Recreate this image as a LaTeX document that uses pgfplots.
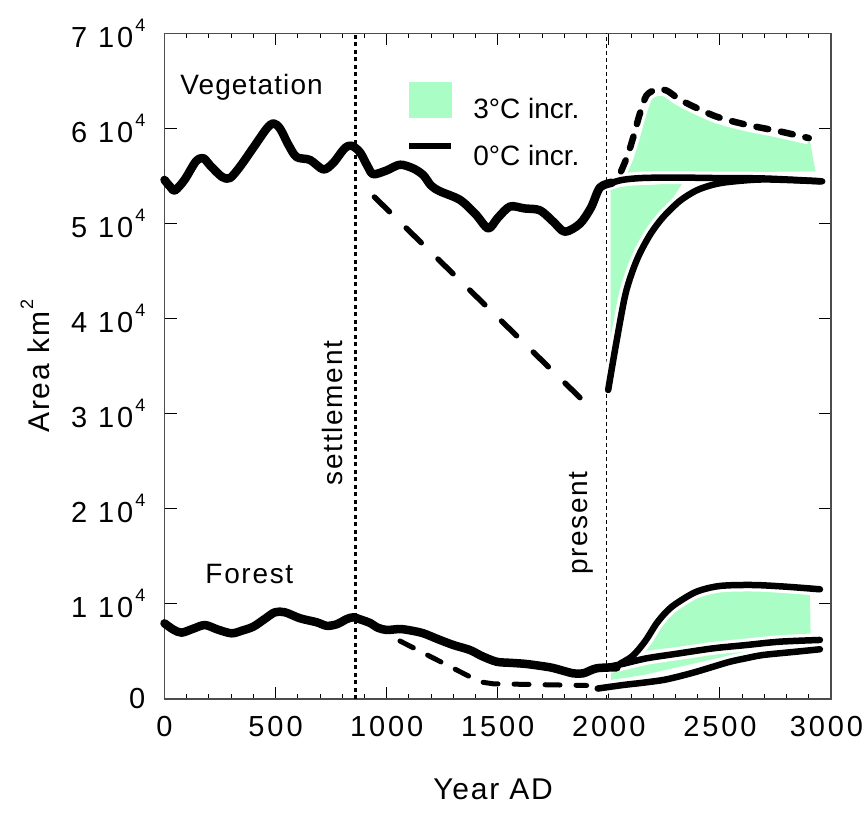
\documentclass[border=0pt]{standalone}
\usepackage{pgfplots}
\usepackage{pgfplotstable}
\pgfplotsset{compat=1.18}
\usepackage{fontspec}
\setmainfont{Liberation Sans}
\newfontfamily\tickfam{Liberation Sans}[LetterSpace=10]
\newfontfamily\txtfam{Liberation Sans}[LetterSpace=6]
\newfontfamily\vegfam{Liberation Sans}[LetterSpace=4]
\definecolor{mint}{RGB}{170,253,196}

\newcommand\tickfont{\tickfam\fontsize{29bp}{34bp}\selectfont}
\newcommand\txtfont{\txtfam\fontsize{28bp}{33bp}\selectfont}
\newcommand\legfont{\fontsize{28bp}{33bp}\selectfont}
\newcommand\labfont{\txtfam\fontsize{30bp}{36bp}\selectfont}
\newcommand\supr[1]{\hspace{2bp}\raisebox{16bp}{\fontsize{18bp}{18bp}\selectfont #1}}
\newcommand\tenk[1]{#1 10\supr{4}}

% vegetation area, reconstruction up to the present
\pgfplotstableread{
x y
0 54600
25 53900
47 53500
90 54600
140 56500
174 56900
210 56000
260 54900
295 54800
340 56000
400 58000
460 60000
490 60550
520 60000
560 58200
595 57000
655 56700
715 55700
760 56400
810 57900
842 58200
880 57500
915 56000
940 55200
1000 55600
1060 56200
1120 55800
1165 55100
1200 54000
1240 53400
1330 52500
1400 51000
1457 49500
1500 50600
1555 51800
1620 51600
1690 51400
1750 50200
1802 49150
1870 50000
1920 51700
1960 53800
2014 54300
}\veghist

% vegetation without settlement
\pgfplotstableread{
x y
945 52800
1870 31700
}\vegdecline

% vegetation, 0 C projection (continued)
\pgfplotstableread{
x y
2000 54200
2060 54600
2150 54800
2300 54850
2469 54800
2700 54750
2960 54450
}\vegflat

% vegetation, 0 C projection (recovery)
\pgfplotstableread{
x y
1997 32500
2030 37000
2072 42300
2105 44900
2140 46900
2190 49000
2245 50700
2320 52400
2395 53500
2470 54100
2545 54400
2700 54650
2950 54450
}\vegrecov

% vegetation, 3 C upper bound
\pgfplotstableread{
x y
2055 55500
2085 57200
2110 59100
2140 61600
2170 63500
2215 64100
2260 64000
2310 63200
2365 62500
2485 61250
2620 60400
2770 59700
2900 59000
}\vegwarm

% 3 C bands
\pgfplotstableread{
x y
2065 55300
2090 57000
2120 59300
2150 61800
2185 63500
2222 63700
2320 62400
2472 60900
2620 60000
2905 58700
2930 55500
}\vegbandA

\pgfplotstableread{
x y
2008 53700
2100 54000
2200 54100
2333 54300
2245 51200
2190 49500
2140 47500
2100 45400
2072 43000
2040 38500
2008 36500
}\vegbandB

% forest area
\pgfplotstableread{
x y
0 7960
40 7300
77 6980
130 7400
182 7780
240 7300
302 6910
350 7200
400 7610
450 8400
497 9120
542 9120
610 8490
685 8070
730 7700
775 7860
820 8400
850 8590
890 8300
925 8000
960 7500
1000 7260
1060 7360
1110 7200
1165 6910
1230 6300
1300 5680
1375 5150
1430 4500
1495 3920
1560 3800
1630 3680
1735 3330
1790 3000
1840 2700
1885 2700
1945 3230
2035 3330
}\forhist

\pgfplotstableread{
x y
1060 6100
1420 1800
1480 1600
1900 1420
}\fordecline

\pgfplotstableread{
x y
2000 3400
2064 3700
2170 4280
2320 4810
2470 5330
2620 5680
2770 6030
2950 6210
}\formid

\pgfplotstableread{
x y
2050 3700
2100 4400
2132 5150
2170 6300
2215 7960
2260 9200
2305 10070
2395 11290
2500 11890
2650 11990
2800 11810
2950 11540
}\forup

\pgfplotstableread{
x y
1950 1100
2064 1470
2150 1700
2245 2000
2320 2400
2395 2870
2470 3400
2545 3920
2620 4300
2695 4630
2845 4980
2950 5230
}\forlow

\pgfplotstableread{
x y
2140 5000
2180 6300
2215 7500
2275 8900
2340 10300
2400 11100
2470 11400
2650 11350
2905 11250
2908 6900
2620 6300
2470 6000
2320 5500
}\forbandA

\pgfplotstableread{
x y
2010 3300
2100 3700
2250 4200
2470 4900
2650 5300
2800 5600
2650 5000
2470 4200
2300 3300
2150 2500
2010 2000
}\forbandB

\begin{document}
\begin{tikzpicture}
\begin{axis}[
  at={(0,0)}, anchor=south west,
  width=666.5bp, height=665.5bp, scale only axis,
  clip=false,
  xmin=0, xmax=3000, ymin=0, ymax=70000,
  scaled x ticks=false, scaled y ticks=false,
  xtick={0,500,1000,1500,2000,2500,3000},
  xticklabels={0,500,1000,1500,2000,2500,\hspace*{-9bp}3000},
  minor x tick num=4,
  ytick={0,10000,20000,30000,40000,50000,60000,70000},
  yticklabels={0,\tenk{1},\tenk{2},\tenk{3},\tenk{4},\tenk{5},\tenk{6},\tenk{7}},
  tick align=inside,
  major tick length=12bp, minor tick length=5bp,
  every tick/.style={black, line width=1bp},
  axis line style={black!70, line width=1.3bp},
  xticklabel style={font=\tickfont, inner sep=0pt, yshift=-17.5bp},
  yticklabel style={font=\tickfont, inner sep=0pt, xshift=-19bp},
  xlabel={Year AD},
  ylabel={Area km\supr{2}},
  xlabel style={font=\labfont, at={(axis description cs:0.493,-0.1352)}, anchor=center},
  ylabel style={font=\labfont, at={(axis description cs:-0.1943,0.5)}, anchor=center},
  legend style={at={(rel axis cs:0.3623,0.927)}, anchor=north west,
    draw=none, fill=none, font=\legfont, row sep=21bp, column sep=0bp,
    inner sep=0pt, cells={anchor=west}},
  legend cell align=left,
]
% 3 C bands
\addplot[fill=mint, draw=none, forget plot] table {\vegbandA} -- cycle;
\addplot[fill=mint, draw=none, forget plot] table {\vegbandB} -- cycle;
\addplot[fill=mint, draw=none, forget plot] table {\forbandA} -- cycle;
\addplot[fill=mint, draw=none, forget plot] table {\forbandB} -- cycle;

% event markers
\addplot[black, line width=2.3bp, dash pattern=on 4bp off 3.5bp, forget plot]
  coordinates {(860,0) (860,70000)};
\addplot[black, line width=1.2bp, dash pattern=on 4bp off 3bp, forget plot]
  coordinates {(1990,0) (1990,70000)};

% white casing under the projections
\addplot[white, line width=13bp, line join=round, smooth, forget plot] table {\vegwarm};
\addplot[white, line width=13bp, line join=round, smooth, forget plot] table {\vegflat};
\addplot[white, line width=13bp, line join=round, smooth, forget plot] table {\vegrecov};
\addplot[white, line width=13bp, line join=round, smooth, forget plot] table {\forup};
\addplot[white, line width=13bp, line join=round, smooth, forget plot] table {\formid};
\addplot[white, line width=13bp, line join=round, smooth, forget plot] table {\forlow};

% reconstructions
\addplot[black, line width=8.5bp, smooth, tension=0.5, line join=round, line cap=round, forget plot] table {\veghist};
\addplot[black, line width=8.5bp, smooth, tension=0.5, line join=round, line cap=round, forget plot] table {\forhist};
\addplot[black, line width=5.5bp, line cap=round, dash pattern=on 21bp off 23.4bp, forget plot] table {\vegdecline};
\addplot[black, line width=5bp, line cap=round, dash pattern=on 15bp off 16bp, forget plot] table {\fordecline};

% projections
\addplot[black, line width=6.5bp, smooth, line cap=round, dash pattern=on 12bp off 13bp, forget plot] table {\vegwarm};
\addplot[black, line width=6.5bp, smooth, line cap=round, forget plot] table {\vegflat};
\addplot[black, line width=6.5bp, smooth, line cap=round, forget plot] table {\vegrecov};
\addplot[black, line width=6.5bp, smooth, line cap=round, forget plot] table {\forup};
\addplot[black, line width=6.5bp, smooth, line cap=round, forget plot] table {\formid};
\addplot[black, line width=6.5bp, smooth, line cap=round, forget plot] table {\forlow};

\addlegendimage{legend image code/.code={\fill[mint] (0bp,-8bp) rectangle (42bp,27bp); \path (62bp,0bp);}}
\addlegendentry{3°C incr.}
\addlegendimage{legend image code/.code={\draw[black, line width=6bp] (0bp,10bp) -- (42bp,10bp); \path (62bp,0bp);}}
\addlegendentry{0°C incr.}

\node[font=\vegfam\fontsize{28bp}{33bp}\selectfont] at (axis cs:392,64370) {Vegetation};
\node[font=\txtfont] at (axis cs:382,13150) {Forest};
\node[font=\txtfont, rotate=90] at (axis cs:754,30080) {settlement};
\node[font=\txtfont, rotate=90] at (axis cs:1875,18510) {present};
\end{axis}
\pgfresetboundingbox
\path[use as bounding box] (-164.5bp,-133bp) rectangle (699.5bp,699bp);
\end{tikzpicture}
\end{document}
